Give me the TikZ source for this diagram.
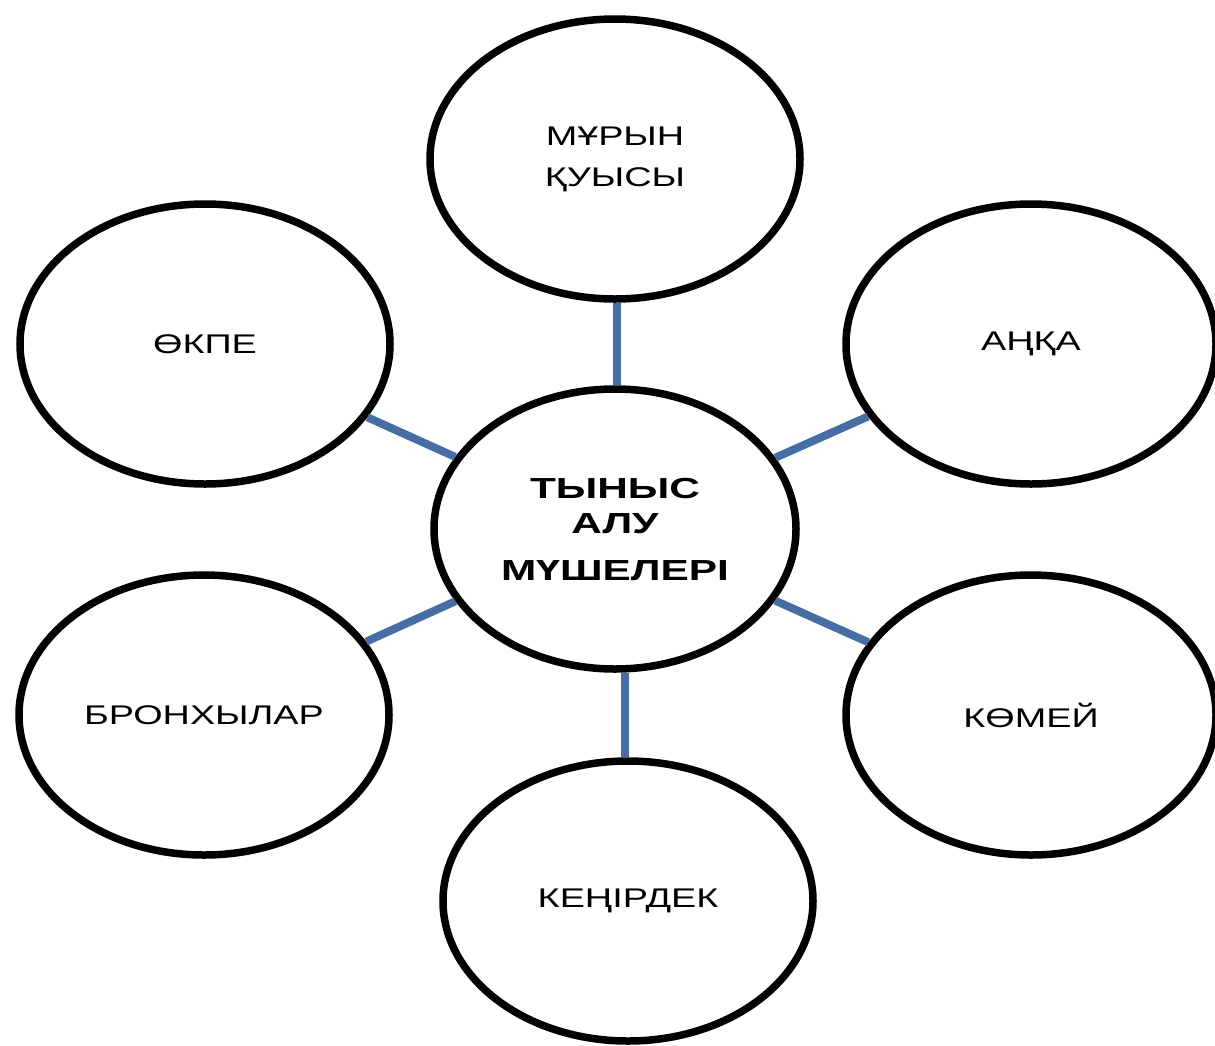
\documentclass[tikz,border=0pt]{standalone}
\usepackage{fontspec}
\setmainfont{Liberation Sans}[FakeStretch=1.4]
\newfontfamily\titlefont{Liberation Sans}[FakeStretch=1.46]
\usetikzlibrary{shapes.geometric}
\definecolor{linkblue}{RGB}{70,110,165}
\tikzset{
  organ/.style={ellipse, draw=black, line width=7.5pt, fill=white,
    minimum width=370pt, minimum height=280pt, inner sep=0pt,
    align=center, font=\fontsize{27}{41}\selectfont},
  hub/.style={organ, minimum width=362pt,
    font=\titlefont\bfseries\fontsize{29}{35}\selectfont},
  link/.style={draw=linkblue, line width=8pt}
}
\begin{document}
\begin{tikzpicture}[x=1pt,y=-1pt]
\useasboundingbox (0,0) rectangle (1215,1045);
\node[hub]   (c)     at (615,529) {ТЫНЫС\\АЛУ\\[12pt]МҮШЕЛЕРІ};
\node[organ] (top)   at (615,159) {МҰРЫН\\ҚУЫСЫ};
\node[organ] (okpe)  at (205,344) {ӨКПЕ};
\node[organ] (anka)  at (1031,344) {АҢҚА};
\node[organ] (bronh) at (204,715) {БРОНХЫЛАР};
\node[organ] (komei) at (1031,715) {КӨМЕЙ};
\node[organ] (ken)   at (628,901) {КЕҢІРДЕК};
\draw[link] ([xshift=2pt]c.north) -- ([xshift=2pt]top.south);
\draw[link] ([xshift=10pt]c.south) -- ([xshift=-3pt]ken.north);
\draw[link] (c) -- (okpe);
\draw[link] (c) -- (anka);
\draw[link] (c) -- (bronh);
\draw[link] (c) -- (komei);
\end{tikzpicture}
\end{document}
